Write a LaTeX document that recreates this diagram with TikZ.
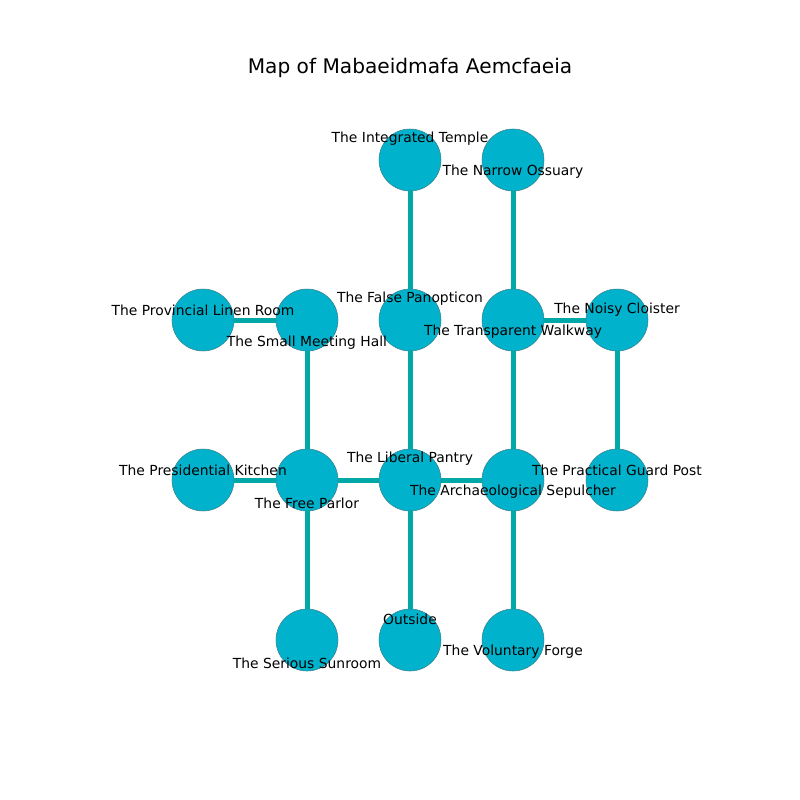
\documentclass[tikz,border=0pt]{standalone}
\usepackage{fontspec}
\setmainfont{DejaVu Sans}
\definecolor{nodefill}{RGB}{0,178,204}
\definecolor{edgecol}{RGB}{0,168,168}
\definecolor{nodeedge}{RGB}{60,130,140}
\begin{document}
\begin{tikzpicture}[x=0.75pt,y=-0.75pt,
  room/.style={circle,fill=nodefill,draw=nodeedge,line width=0.4pt,minimum size=46.5pt,inner sep=0pt},
  link/.style={edgecol,line width=3.75pt},
  lbl/.style={font=\fontsize{10.4}{12}\selectfont,inner sep=0pt,text=black,yshift=-1.5pt}]
\useasboundingbox (0,0) rectangle (800,800);
\node[font=\fontsize{15.1}{18}\selectfont] (title) at (410,68) {Map of Mabaeidmafa Aemcfaeia};
% nodes
\node[room] (it) at (410,160) {};
\node[room] (no) at (513,160) {};
\node[room] (pl) at (203,320) {};
\node[room] (sm) at (307,320) {};
\node[room] (fp) at (410,320) {};
\node[room] (tw) at (513,320) {};
\node[room] (nc) at (617,320) {};
\node[room] (pk) at (203,480) {};
\node[room] (fr) at (307,480) {};
\node[room] (lp) at (410,480) {};
\node[room] (as) at (513,480) {};
\node[room] (pg) at (617,480) {};
\node[room] (ss) at (307,640) {};
\node[room] (ou) at (410,640) {};
\node[room] (vf) at (513,640) {};
% edges
\draw[link] (it) -- (fp);
\draw[link] (no) -- (tw);
\draw[link] (pl) -- (sm);
\draw[link] (sm) -- (fr);
\draw[link] (fp) -- (lp);
\draw[link] (tw) -- (nc);
\draw[link] (tw) -- (as);
\draw[link] (nc) -- (pg);
\draw[link] (pk) -- (fr);
\draw[link] (fr) -- (lp);
\draw[link] (lp) -- (as);
\draw[link] (fr) -- (ss);
\draw[link] (lp) -- (ou);
\draw[link] (as) -- (vf);
% labels
\node[lbl] (l1) at (410,137) {The Integrated Temple};
\node[lbl] (l2) at (513,170) {The Narrow Ossuary};
\node[lbl] (l3) at (203,308) {The Provincial Linen Room};
\node[lbl] (l4) at (307,341) {The Small Meeting Hall};
\node[lbl] (l5) at (410,297) {The False Panopticon};
\node[lbl] (l6) at (513,330) {The Transparent Walkway};
\node[lbl] (l7) at (617,308) {The Noisy Cloister};
\node[lbl] (l8) at (203,468) {The Presidential Kitchen};
\node[lbl] (l9) at (307,501) {The Free Parlor};
\node[lbl] (l10) at (410,457) {The Liberal Pantry};
\node[lbl] (l11) at (513,490) {The Archaeological Sepulcher};
\node[lbl] (l12) at (617,468) {The Practical Guard Post};
\node[lbl] (l13) at (410,617) {Outside};
\node[lbl] (l14) at (307,661) {The Serious Sunroom};
\node[lbl] (l15) at (513,650) {The Voluntary Forge};
\end{tikzpicture}
\end{document}
